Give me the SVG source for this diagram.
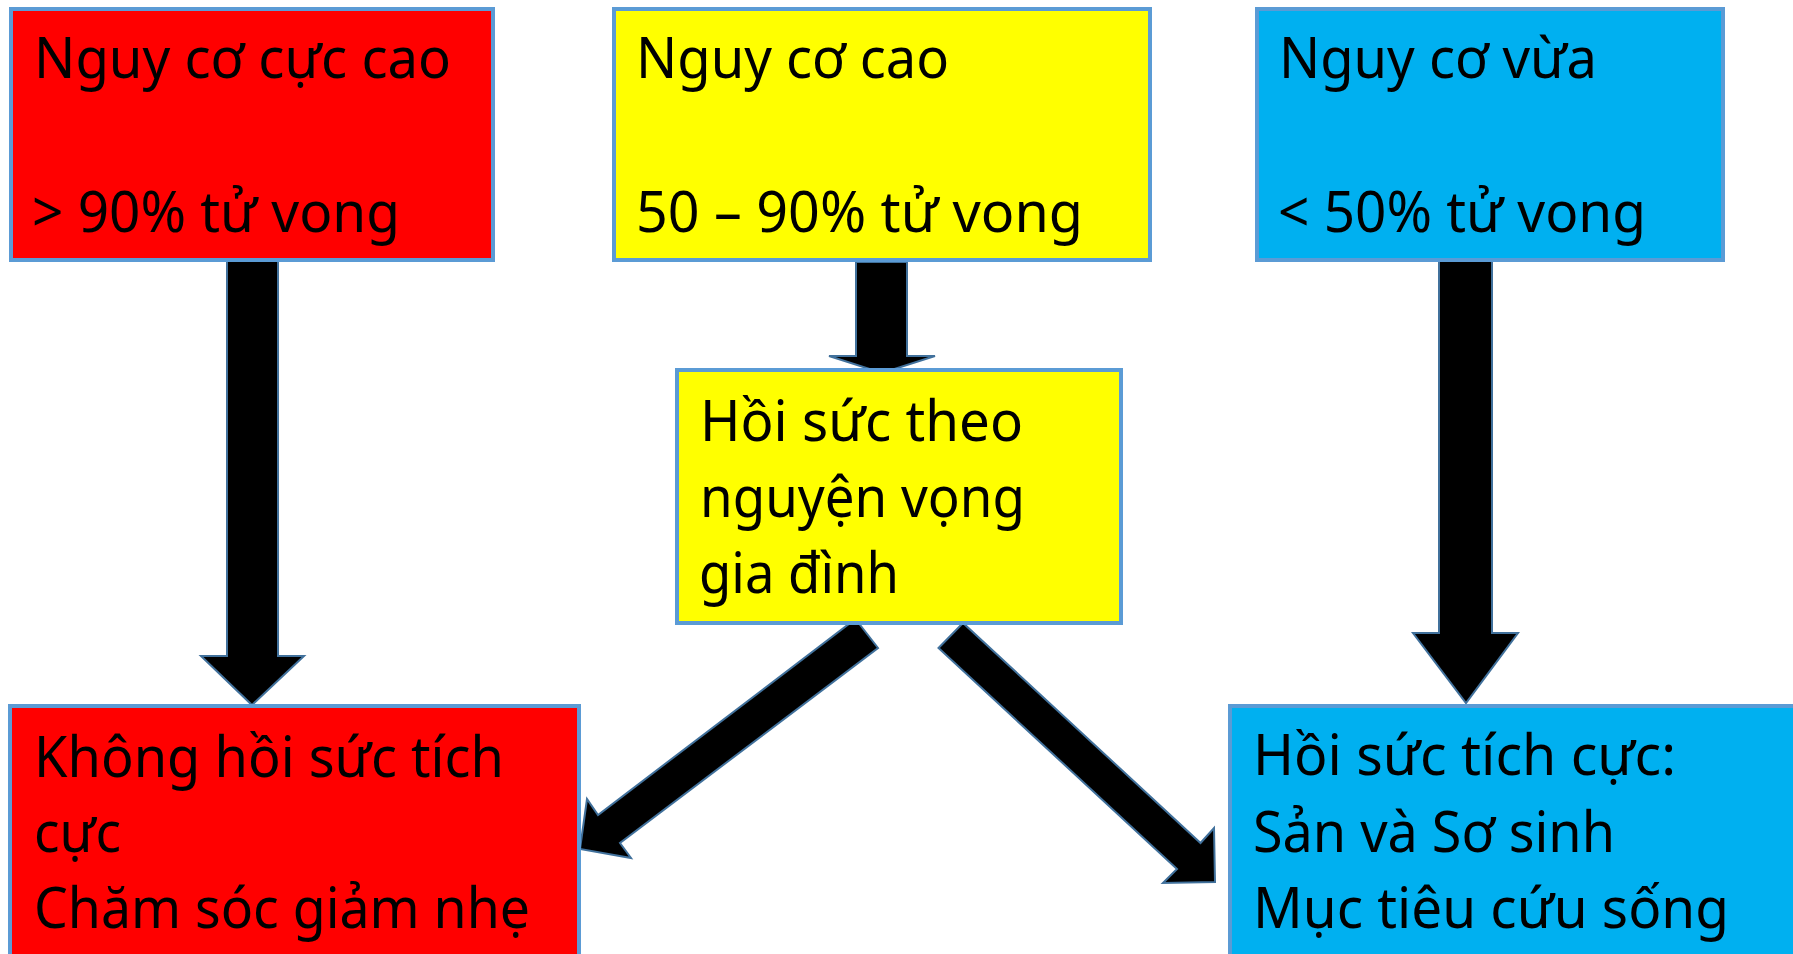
<svg xmlns="http://www.w3.org/2000/svg" width="1793" height="954" viewBox="0 0 1793 954">
<style>
.box{stroke:#5B9BD5;stroke-width:4}
.red{fill:#FF0000}
.yel{fill:#FFFF00}
.blu{fill:#00B0F0}
.t{font-family:"Noto Sans","Open Sans","DejaVu Sans",sans-serif;font-size:56px;fill:#000}
.arr{fill:#000;stroke:#41719C;stroke-width:2;stroke-linejoin:miter}
</style>
<rect width="1793" height="954" fill="#fff"/>
<g id="connectors">
<polygon class="arr" points="227,260 278,260 278,656 304,656 252,705 201,656 227,656"/>
<polygon class="arr" points="856,262 907,262 907,356 935,356 882,373 829,356 856,356"/>
<polygon class="arr" points="1439,257 1492,257 1492,633 1518,633 1466,703 1413,633 1439,633"/>
<polygon class="arr" points="855.5,619 878,648 620,843 631,858 580,849 587,799 598,815"/>
<polygon class="arr" points="963,623 938.5,648 1177,869 1163,883 1215,882 1214,828 1200.5,843"/>
</g>
<g id="n1">
<rect class="box red" x="11" y="9" width="482" height="251"/>
<text class="t" x="34" y="78" textLength="417" lengthAdjust="spacingAndGlyphs">Nguy cơ cực cao</text>
<text class="t" x="32" y="232" textLength="368" lengthAdjust="spacingAndGlyphs">&gt; 90% tử vong</text>
</g>
<g id="n2">
<rect class="box yel" x="614" y="9" width="536" height="251"/>
<text class="t" x="636" y="78" textLength="313" lengthAdjust="spacingAndGlyphs">Nguy cơ cao</text>
<text class="t" x="636" y="232" textLength="447" lengthAdjust="spacingAndGlyphs">50 – 90% tử vong</text>
</g>
<g id="n3">
<rect class="box blu" x="1257" y="9" width="466" height="251"/>
<text class="t" x="1279" y="78" textLength="318" lengthAdjust="spacingAndGlyphs">Nguy cơ vừa</text>
<text class="t" x="1278" y="232" textLength="368" lengthAdjust="spacingAndGlyphs">&lt; 50% tử vong</text>
</g>
<g id="n4">
<rect class="box yel" x="677" y="370" width="444" height="253"/>
<text class="t" x="700" y="441" textLength="323" lengthAdjust="spacingAndGlyphs">Hồi sức theo</text>
<text class="t" x="700" y="517" textLength="325" lengthAdjust="spacingAndGlyphs">nguyện vọng</text>
<text class="t" x="699" y="593" textLength="200" lengthAdjust="spacingAndGlyphs">gia đình</text>
</g>
<g id="n5">
<rect class="box red" x="10" y="706" width="569" height="270"/>
<text class="t" x="34" y="777" textLength="470" lengthAdjust="spacingAndGlyphs">Không hồi sức tích</text>
<text class="t" x="34" y="852" textLength="87" lengthAdjust="spacingAndGlyphs">cực</text>
<text class="t" x="34" y="928" textLength="496" lengthAdjust="spacingAndGlyphs">Chăm sóc giảm nhẹ</text>
</g>
<g id="n6">
<rect class="box blu" x="1230" y="706" width="600" height="270"/>
<text class="t" x="1253" y="775" textLength="423" lengthAdjust="spacingAndGlyphs">Hồi sức tích cực:</text>
<text class="t" x="1253" y="852" textLength="362" lengthAdjust="spacingAndGlyphs">Sản và Sơ sinh</text>
<text class="t" x="1253" y="928" textLength="476" lengthAdjust="spacingAndGlyphs">Mục tiêu cứu sống</text>
</g>
</svg>
